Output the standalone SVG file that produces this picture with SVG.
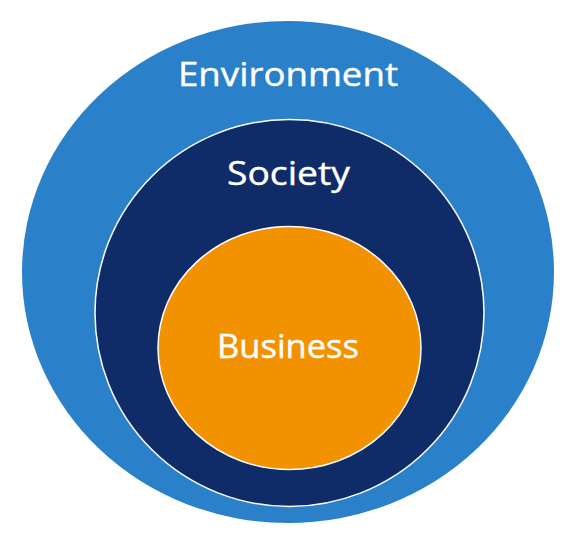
<svg xmlns="http://www.w3.org/2000/svg" width="580" height="540" viewBox="0 0 580 540">
  <style>
    .lbl { font-family: "Open Sans", "Noto Sans", "Liberation Sans", sans-serif; font-size: 32px; fill: #ffffff; stroke: #ffffff; stroke-width: 0.4; text-anchor: middle; }
    .ring { stroke: #ffffff; stroke-width: 1.5; }
  </style>
  <rect width="580" height="540" fill="#ffffff"/>
  <g id="environment">
    <ellipse cx="288" cy="272" rx="266" ry="251" fill="#2A80C9"/>
    <text class="lbl" x="288" y="86" textLength="220" lengthAdjust="spacingAndGlyphs">Environment</text>
  </g>
  <g id="society">
    <ellipse class="ring" cx="289.5" cy="313" rx="194.5" ry="193.5" fill="#102C68"/>
    <text class="lbl" x="288.5" y="185" style="font-size:33px" textLength="123" lengthAdjust="spacingAndGlyphs">Society</text>
  </g>
  <g id="business">
    <ellipse class="ring" cx="289.5" cy="348" rx="131.5" ry="121.5" fill="#F39200"/>
    <text class="lbl" x="288" y="358" textLength="142" lengthAdjust="spacingAndGlyphs">Business</text>
  </g>
</svg>
